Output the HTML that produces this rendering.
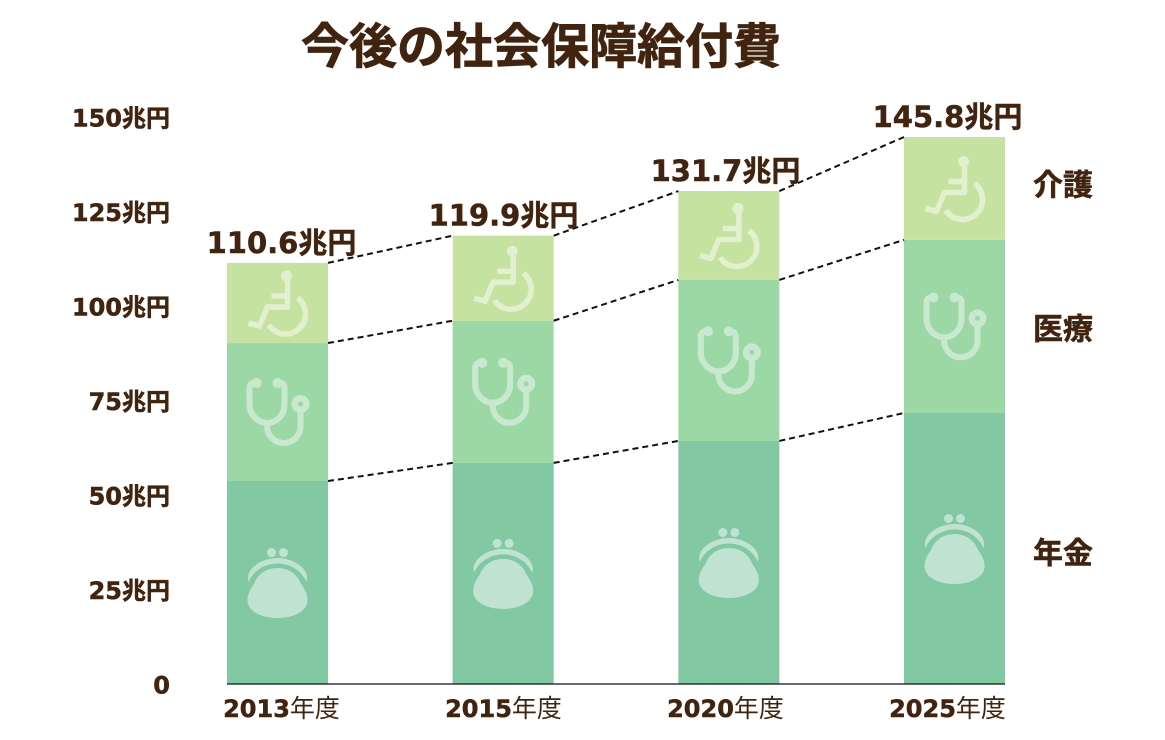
<!DOCTYPE html>
<html lang="ja">
<head>
<meta charset="utf-8">
<title>今後の社会保障給付費</title>
<style>
html,body{margin:0;padding:0;background:#fff;}
svg{display:block;}
text{fill:#41240f;stroke:#41240f;stroke-width:.5px;font-family:"DejaVu Sans","Noto Sans CJK JP",sans-serif;font-weight:700;}
</style>
</head>
<body>
<svg id="chart" xmlns="http://www.w3.org/2000/svg" width="1165" height="740" viewBox="0 0 1165 740">
  <rect width="1165" height="740" fill="#fff"/>
  <text x="541" y="63" text-anchor="middle" style="font-family:'Liberation Sans','Noto Sans CJK JP',sans-serif;font-size:48px;font-weight:700;stroke-width:.8px">今後の社会保障給付費</text>
  <defs>
    <g id="icon-purse">
      <circle cx="-6" cy="-30.5" r="4.5"/><circle cx="6" cy="-30.5" r="4.5"/>
      <path d="M-29,-1 C-33,-14 -16,-25 0,-25 C16,-25 33,-14 29,-1 C25,-11 14,-19.5 0,-19.5 C-14,-19.5 -25,-11 -29,-1Z"/>
      <path d="M0,-15 C12,-15 20,-8 23,0 C27,6 30,11 30,17 C30,29 15,35 0,35 C-15,35 -30,29 -30,17 C-30,11 -27,6 -23,0 C-20,-8 -12,-15 0,-15Z"/>
    </g>
    <g id="icon-stethoscope">
      <g fill="none" stroke="#fff" stroke-width="6" stroke-linecap="round">
        <path d="M-21,-29 C-26,-30 -28,-27 -28,-24 L-28,-8 C-28,4 -18,11 -10.5,11 C-2,11 7,4 7,-8 L7,-24 C7,-27 5,-30 0,-29"/>
        <path d="M-10.5,11 L-10.5,14 C-10.5,24 -2,31 6,31 C15,31 23,24 23,14 L23,-2"/>
      </g>
      <circle cx="-21" cy="-29" r="5"/><circle cx="0" cy="-29" r="5"/>
      <path fill-rule="evenodd" d="M14,-8 a9,9 0 1,0 18,0 a9,9 0 1,0 -18,0Z M20.5,-8 a2.5,2.5 0 1,0 5,0 a2.5,2.5 0 1,0 -5,0Z"/>
    </g>
    <g id="icon-wheelchair">
      <circle cx="9" cy="-27" r="5.5"/>
      <g fill="none" stroke="#fff" stroke-width="5.5" stroke-linejoin="round">
        <path d="M10,-24 L10,4 L-10,4 L-18,23 L-29,20"/>
        <path d="M-6,-7 L10,-7"/>
        <path d="M20,-5 A20,20 0 1,1 -8.7,22"/>
      </g>
    </g>
  </defs>
  <g id="plot"></g>
</svg>
<script>
const categories = ['2013', '2015', '2020', '2025'];
const totalLabels = ['110.6', '119.9', '131.7', '145.8'];
const pension = [53.7, 58.5, 64.3, 71.7];
const medical = [36.5, 37.6, 42.6, 45.8];
const care = [21.2, 22.5, 23.5, 27.2];
const tickValues = [0, 25, 50, 75, 100, 125, 150];
const tickLabels = ['0', '25兆円', '50兆円', '75兆円', '100兆円', '125兆円', '150兆円'];
const seriesNames = ['年金', '医療', '介護'];

const NS = 'http://www.w3.org/2000/svg';
const plot = document.getElementById('plot');
const baseY = 684;
const unit = 3.78;
const barW = 101;
function yScale(v) { return baseY - v * unit; }
function xLeft(i) { return 227 + i * 225.67; }
function xLabel(i) { return 281.5 + i * 222; }
function make(tag, attrs, parent) {
  const el = document.createElementNS(NS, tag);
  for (const k in attrs) el.setAttribute(k, attrs[k]);
  (parent || plot).appendChild(el);
  return el;
}

const seriesList = [
  { key: 'pension', values: pension, color: '#82c8a3', icon: 'icon-purse', opacity: 0.5, dy: 0.5, labelDy: 15 },
  { key: 'medical', values: medical, color: '#9bd8a5', icon: 'icon-stethoscope', opacity: 0.45, dy: 0, labelDy: 13 },
  { key: 'care', values: care, color: '#c6e2a0', icon: 'icon-wheelchair', opacity: 0.5, dy: 0, labelDy: 7 }
];

// Y axis labels
tickValues.forEach(function (v, i) {
  const t = make('text', { x: 170, y: yScale(v) + 9.5, 'text-anchor': 'end', 'font-size': 24 });
  
  
  t.textContent = tickLabels[i];
});

// Bars and icons
categories.forEach(function (c, i) {
  let acc = 0;
  seriesList.forEach(function (s) {
    const v = s.values[i];
    const top = yScale(acc + v);
    const bottom = yScale(acc);
    const r = make('rect', { x: xLeft(i), y: top, width: barW, height: bottom - top, fill: s.color });
    
    
    const ic = make('use', {
      href: '#' + s.icon,
      x: xLeft(i) + barW / 2,
      y: (top + bottom) / 2 + s.dy,
      fill: '#fff',
      opacity: s.opacity
    });
    
    
    acc += v;
  });
});

// Dashed connectors between stack boundaries
for (let i = 0; i < categories.length - 1; i++) {
  let a = 0, b = 0;
  seriesList.forEach(function (s) {
    a += s.values[i];
    b += s.values[i + 1];
    const l = make('line', {
      x1: xLeft(i) + barW, y1: yScale(a),
      x2: xLeft(i + 1), y2: yScale(b),
      stroke: '#111', 'stroke-width': 2, 'stroke-dasharray': '6 4'
    });
    
    
  });
}

// Baseline
const axisLine = make('line', { x1: xLeft(0), y1: baseY, x2: xLeft(3) + barW, y2: baseY, stroke: '#111', 'stroke-width': 1.2 });



// Category labels and totals
categories.forEach(function (c, i) {
  const t = make('text', { x: xLabel(i), y: 717, 'text-anchor': 'middle', 'font-size': 24 });
  
  
  t.appendChild(document.createTextNode(c));
  const ts = make('tspan', { style: "font-family:'Noto Sans CJK JP',sans-serif;font-weight:400;font-size:25px;stroke-width:0" }, t);
  ts.textContent = '年度';

  const top = yScale(pension[i] + medical[i] + care[i]);
  const lbl = make('text', { x: xLabel(i), y: top - 10, 'text-anchor': 'middle', 'font-size': 29 });
  
  
  lbl.textContent = totalLabels[i] + '兆円';
});

// Series labels at right, centred on last bar's segments
let acc2 = 0;
seriesList.forEach(function (s, i) {
  const v = s.values[3];
  const mid = yScale(acc2 + v / 2);
  acc2 += v;
  const t = make('text', { x: 1063, y: mid + s.labelDy, 'text-anchor': 'middle', 'font-size': 30, style: "font-family:'Liberation Sans','Noto Sans CJK JP',sans-serif" });
  
  
  t.textContent = seriesNames[i];
});
</script>
</body>
</html>
